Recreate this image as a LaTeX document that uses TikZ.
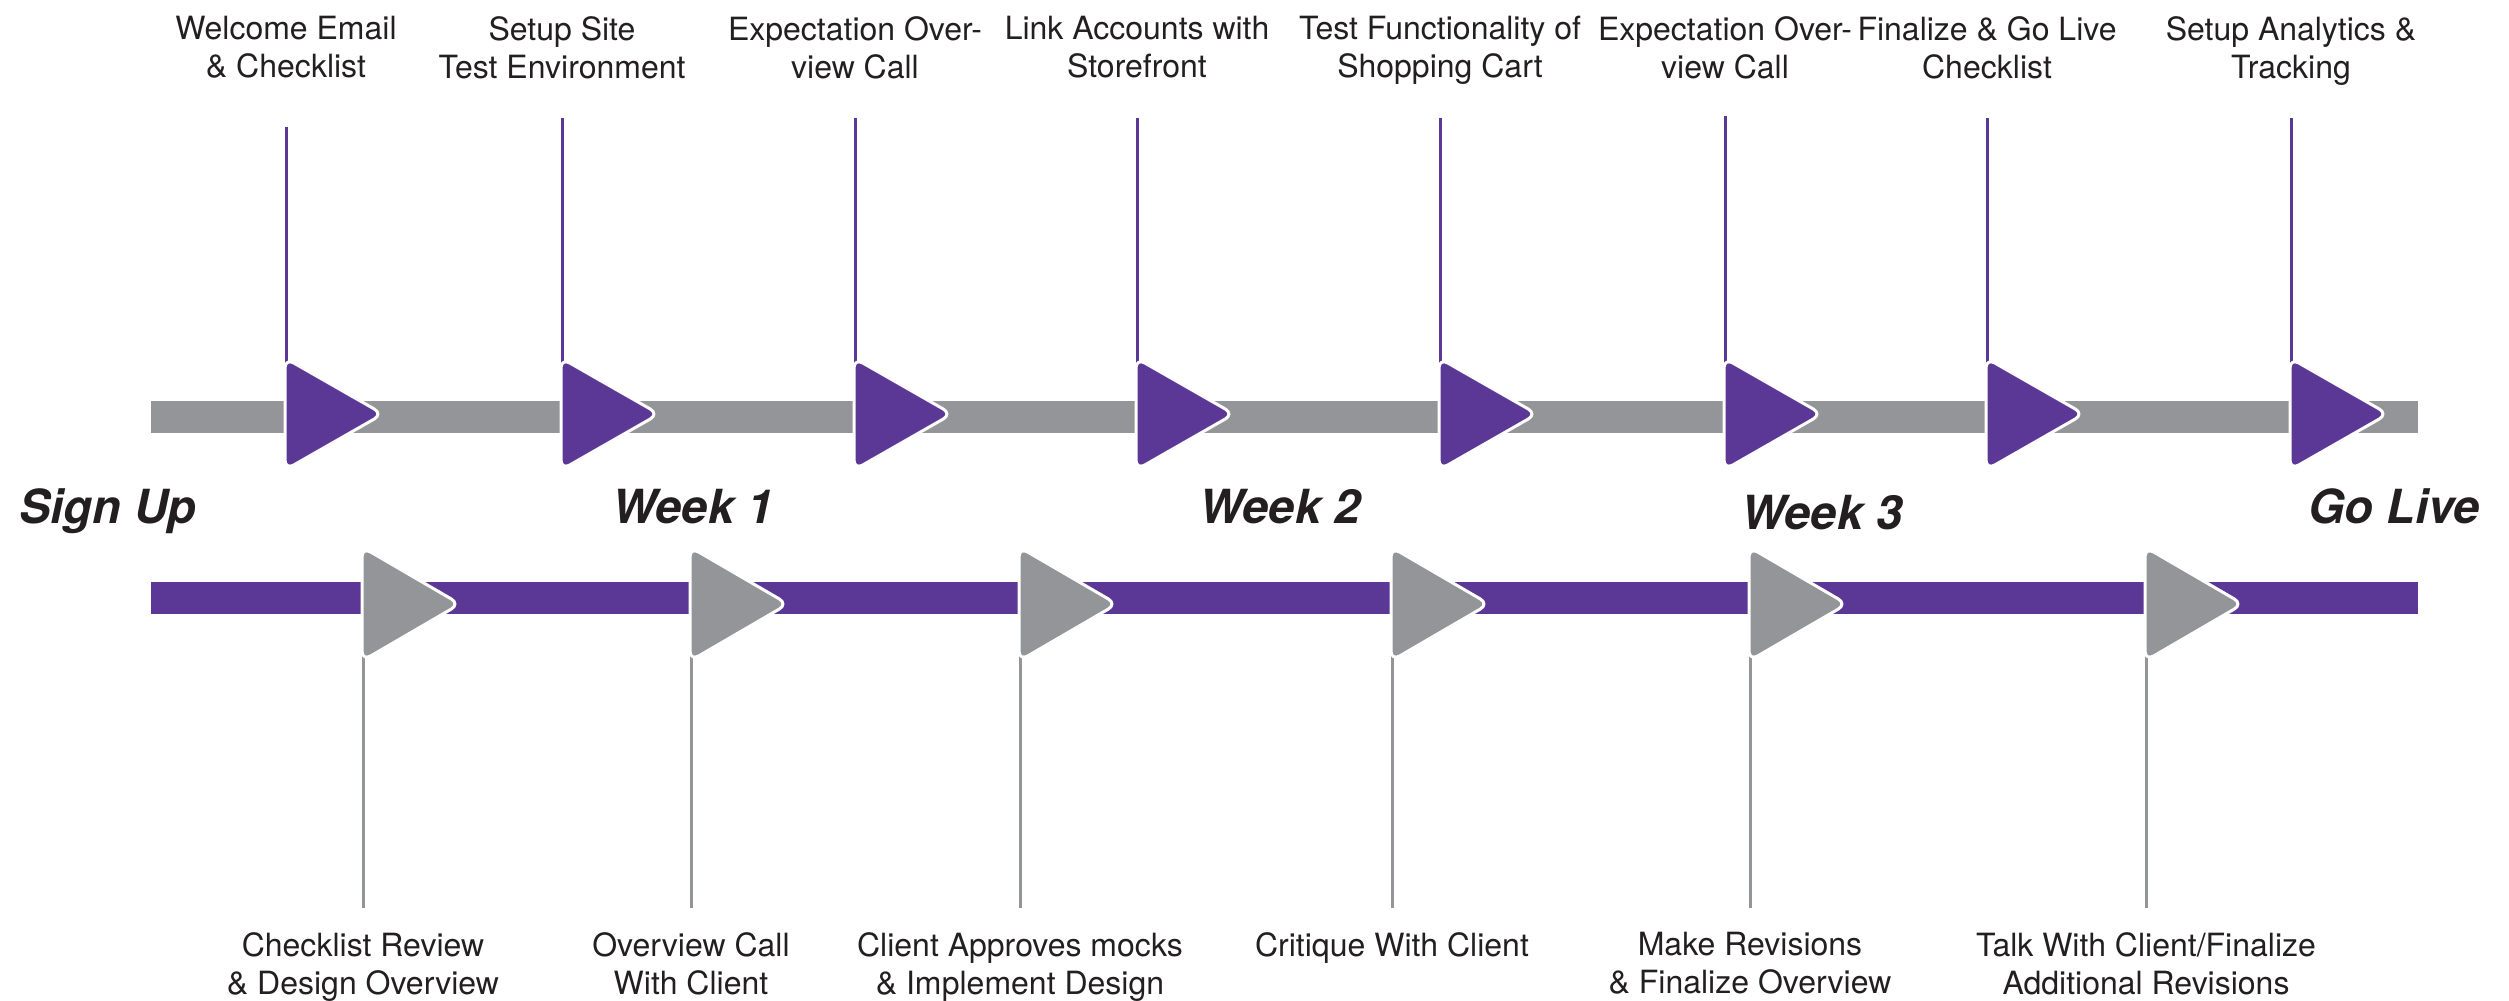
\documentclass[tikz,border=0pt]{standalone}
\usepackage{fontspec}
\setmainfont{TeX Gyre Heros}
\definecolor{tlpurple}{RGB}{92,56,150}
\definecolor{tlgray}{RGB}{147,149,152}
\definecolor{tltext}{RGB}{35,31,32}
\begin{document}
\begin{tikzpicture}[x=1pt,y=-1pt,
  toplabel/.style={anchor=north,align=center,inner sep=0pt,text=tltext,
    font=\fontsize{32}{38}\selectfont},
  weeklabel/.style={anchor=base,inner sep=0pt,text=tltext,
    font=\fontsize{47}{56}\selectfont\bfseries\itshape},
  marker/.style={line width=3pt,draw=white,rounded corners=10pt,line join=round},
  topline/.style={draw=tlpurple,line width=3pt},
  botline/.style={draw=tlgray,line width=3pt}]
\useasboundingbox (0,0) rectangle (2509,1001);
% bars
\fill[tlgray] (151,401) rectangle (2418,433);
\fill[tlpurple] (151,582) rectangle (2418,614);
% top milestones
\foreach \x/\ly/\t [count=\i] in {
  286/127/{Welcome Email\\\& Checklist},
  562/118/{Setup Site\\Test Environment},
  855/118/{Expectation Over-\\view Call},
  1137/118/{Link Accounts with\\Storefront},
  1440/118/{Test Functionality of\\Shopping Cart},
  1725/116/{Expectation Over-\\view Call},
  1987/118/{Finalize \& Go Live\\Checklist},
  2291/118/{Setup Analytics \&\\Tracking}} {
  \node[toplabel] (t\i) at (\x,16) {\t};
  \coordinate (tl\i) at (\x,\ly);
  \coordinate (tm\i) at (\x,365);
  \draw[topline] (tl\i) -- (tm\i);
  \draw[marker,fill=tlpurple] (\x-1,358) -- (\x+97,414) -- (\x-1,470) -- cycle;
}
% bottom milestones
\foreach \x/\t [count=\i] in {
  363/{Checklist Review\\\& Design Overview},
  691/{Overview Call\\With Client},
  1020/{Client Approves mocks\\\& Implement Design},
  1392/{Critique With Client},
  1750/{Make Revisions\\\& Finalize Overview},
  2146/{Talk With Client/Finalize\\Additional Revisions}} {
  \node[toplabel] (b\i) at (\x,932) {\t};
  \coordinate (bl\i) at (\x,908);
  \coordinate (bm\i) at (\x,652);
  \draw[botline] (bm\i) -- (bl\i);
  \draw[marker,fill=tlgray] (\x-1,547) -- (\x+97,604) -- (\x-1,661) -- cycle;
}
% period labels
\node[weeklabel,anchor=base west] (signup) at (19,523) {Sign Up};
\node[weeklabel] (w1) at (693,523) {Week 1};
\node[weeklabel] (w2) at (1280,523) {Week 2};
\node[weeklabel] (w3) at (1822,529) {Week 3};
\node[weeklabel,anchor=base east] (golive) at (2480,523) {Go Live};
\end{tikzpicture}
\end{document}
